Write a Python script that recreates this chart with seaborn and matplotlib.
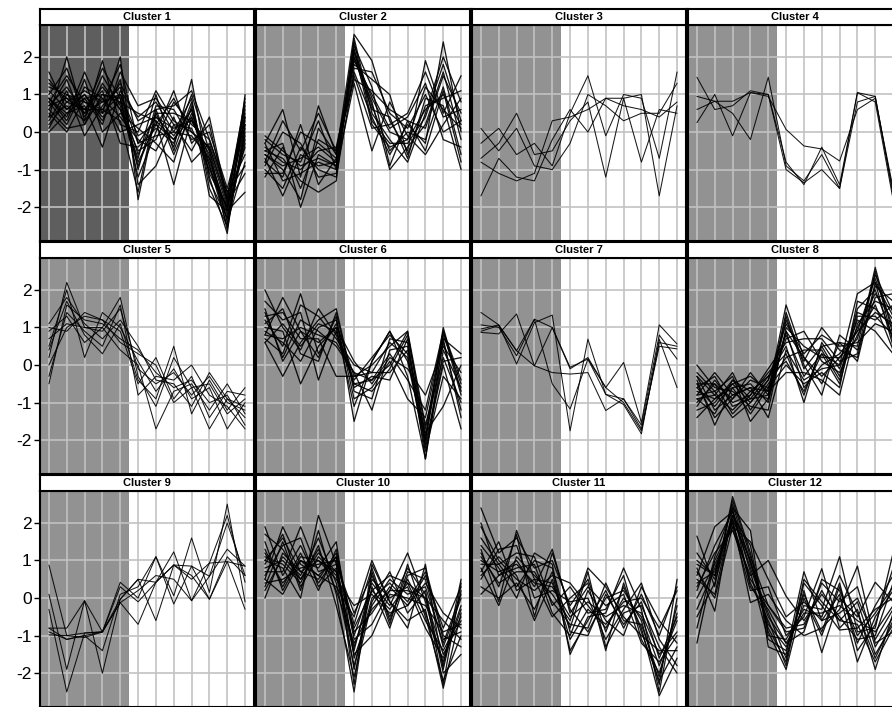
import numpy as np
import pandas as pd
import matplotlib
matplotlib.use("Agg")
import matplotlib.pyplot as plt
import seaborn as sns

# ---------------- data ----------------
time_points = list(range(1, 13))
ytick_values = [-2, -1, 0, 1, 2]
ytick_labels = ["-2", "-1", "0", "1", "2"]
cluster_names = [f"Cluster {i}" for i in range(1, 13)]

c1 = [
    [0.7, 0.9, 0.5, 0.8, 1.0, -0.3, 0.4, 0.1, 0.3, -0.5, -2.0, 0.2],
    [1.6, 0.6, 1.0, 0.4, 0.8, -0.8, 0.2, -0.2, 0.6, -0.9, -2.3, -0.3],
    [0.4, 2.0, 0.3, 1.9, 0.2, 0.0, 1.1, 0.3, 0.0, -0.4, -1.8, 0.6],
    [0.9, 0.4, 1.6, 0.5, 2.0, -1.8, 0.5, -0.4, 1.4, -1.2, -2.7, 1.0],
    [0.2, 0.8, 0.6, 1.2, 0.6, -0.5, -0.2, 0.8, 0.2, -0.2, -1.6, -0.6],
    [1.2, 1.0, 0.8, 0.6, 1.3, 0.3, 0.6, -0.6, 0.5, -0.7, -2.1, 0.4],
    [0.6, 1.4, 0.2, 1.0, 0.9, -1.2, 0.0, 1.1, -0.3, 0.2, -1.9, -1.1],
    [0.0, 0.5, 0.7, -0.4, 1.1, 0.4, 0.8, 0.0, 0.9, -1.5, -2.5, 0.0],
    [0.8, 0.2, 1.2, 0.9, 0.4, -0.2, -0.5, 0.4, -0.8, -0.3, -1.7, 0.8],
    [1.0, 1.7, 0.4, 1.5, 0.7, -0.9, 0.3, -1.4, 0.4, -0.8, -2.2, -0.2],
    [0.5, 0.0, 0.9, 0.2, 1.6, 0.7, 0.9, 0.2, 0.1, -1.0, -2.0, 0.5],
    [1.3, 0.9, 0.6, 1.1, -0.3, -0.4, 0.1, -0.3, 1.0, -0.5, -2.4, -0.8],
    [0.3, 1.1, -0.1, 0.7, 1.2, -1.0, 0.7, 0.6, -0.2, 0.0, -1.5, 0.3],
    [0.9, 0.3, 1.4, 0.0, 0.5, 0.1, -0.3, -0.8, 0.7, -1.7, -2.1, -1.6],
    [0.7, 1.2, 0.5, 1.7, 0.9, -0.6, 0.5, 0.5, 0.3, -0.6, -2.6, 0.1],
    [1.1, 0.6, 1.0, 0.3, 1.4, -1.4, -0.9, 0.2, -0.5, 0.4, -1.8, 0.7],
    [0.4, 0.7, 0.3, 0.9, 0.0, 0.2, 0.4, -0.1, 0.6, -1.1, -2.0, -0.4],
    [0.8, 1.5, 0.8, 0.5, 1.0, -0.1, 0.2, 0.9, 0.0, -0.4, -1.9, 0.9],
    [0.6, 0.1, 0.2, 1.3, 0.6, -0.7, 1.0, -0.5, 0.8, -1.3, -2.3, -0.1],
    [1.4, 0.8, 1.1, 0.8, 1.8, -0.3, -0.1, 0.0, -0.1, -0.7, -2.1, 0.4],
    [0.1, 1.0, 0.6, 0.6, 0.3, -1.6, 0.6, 0.7, 1.1, -0.2, -1.6, -0.9],
    [0.9, 0.5, 0.9, 1.0, 0.8, 0.5, 0.3, -0.2, 0.4, -0.9, -2.5, 0.2],
]
c2 = [
    [-0.6, -0.9, -0.7, -0.4, -0.8, 2.1, 0.9, 0.0, -0.2, 0.6, 1.0, 0.2],
    [-0.3, 0.6, -1.2, 0.7, -0.6, 2.6, 1.9, 0.3, -0.5, 1.9, 0.5, 1.5],
    [-1.0, -1.5, -0.4, -1.0, -1.2, 1.6, 0.4, -0.6, 0.2, -0.3, 2.4, 0.0],
    [-0.5, -0.3, -2.0, -0.6, -0.9, 2.0, 0.6, 0.4, -0.7, 0.9, 0.7, -1.0],
    [-0.8, -1.2, 0.2, -1.4, -0.7, 2.3, 1.2, -0.9, 0.3, 0.1, 1.5, 0.5],
    [-0.2, -0.6, -0.8, 0.3, -1.0, 1.3, -0.5, 0.8, -0.1, -0.6, 0.2, 0.9],
    [-1.2, -0.4, -1.5, -0.2, -0.5, 1.9, 1.0, 0.1, 0.4, 1.3, -0.2, -0.4],
    [-0.7, -1.7, -0.6, -0.9, -0.8, 2.4, 0.3, -0.3, -0.3, 0.4, 1.8, 0.3],
    [-0.4, -0.8, -1.0, -0.5, -0.4, 1.8, 1.4, 1.0, -0.6, 0.7, 0.9, 1.1],
    [-0.9, 0.0, -0.3, -1.2, -1.1, 2.2, 0.7, -0.5, 0.0, -0.2, 1.2, -0.6],
    [-0.6, -1.0, -1.8, 0.1, -0.6, 1.5, 0.1, 0.2, 0.5, 1.6, 0.4, 0.6],
    [-0.1, -0.5, -0.9, -0.7, -0.9, 2.0, 0.8, -1.0, -0.4, 0.2, 1.6, -0.2],
    [-1.1, -1.1, 0.0, -0.3, -0.7, 1.7, 1.6, 0.5, 0.1, 1.0, 0.0, 0.3],
    [-0.5, -0.7, -1.3, -1.6, -1.3, 2.5, 0.5, -0.2, -0.8, 0.5, 2.0, 0.8],
    [-0.8, 0.3, -0.5, 0.5, -0.5, 1.4, 1.1, 0.6, 0.3, -0.5, 1.1, -0.8],
    [-0.3, -1.3, -1.1, -0.8, -1.0, 2.2, 0.2, -0.4, -0.2, 1.2, 0.6, 0.1],
]
c3 = [
    [-0.3, 0.1, -0.6, -0.3, -0.9, 0.5, 1.5, -0.1, 1.0, 0.9, -0.7, 1.6],
    [-1.7, -0.7, -1.2, -1.3, -0.2, 0.6, 0.0, 0.9, 0.7, 0.6, 0.4, 0.8],
    [-0.7, -0.3, 0.5, -0.6, -0.5, 0.3, 0.8, -1.2, 0.9, -0.8, 0.6, 0.5],
    [-0.8, -1.1, -1.3, -1.1, 0.3, 0.4, 0.6, 0.9, 0.9, 1.0, -1.7, 0.7],
    [0.1, -0.5, 0.1, -0.9, -1.0, -0.3, 1.0, 0.7, 0.3, 0.5, 0.5, 1.3],
]
c4 = [
    [1.46, 0.6, 0.7, 1.1, 1.0, -1.0, -1.35, -1.0, -1.5, 1.05, 0.8, -1.8],
    [0.25, 1.0, -0.1, 1.05, 1.0, -0.8, -1.4, -0.4, -1.4, 1.05, 0.95, -1.7],
    [0.95, 0.82, 0.5, -0.2, 1.46, -0.9, -1.3, -0.6, -1.5, 0.8, 0.95, -1.6],
    [0.6, 0.82, 0.82, 1.05, 0.95, 0.07, -0.37, -0.45, -0.77, 0.6, 0.9, -1.5],
]
c5 = [
    [0.2, 2.2, 1.0, 0.9, 1.5, -0.1, -0.5, -0.2, -0.8, -0.3, -1.0, -1.2],
    [-0.5, 1.6, 1.2, 1.1, 0.7, 0.4, -0.2, -0.6, -0.4, -1.0, -0.8, -1.6],
    [0.9, 1.3, 0.6, 1.0, 1.8, -0.3, -1.1, 0.2, -0.6, -0.5, -1.3, -0.9],
    [1.1, 1.8, 1.1, 0.7, 1.2, 0.5, -0.4, -0.5, -1.1, -0.2, -0.9, -1.4],
    [0.0, 1.0, 1.3, 1.2, 0.9, -0.5, 0.2, -0.9, -0.3, -1.4, -0.7, -0.8],
    [0.5, 2.0, 0.2, 1.4, 1.0, 0.1, -0.7, -0.1, -0.9, -0.6, -1.7, -1.0],
    [-0.3, 1.4, 0.9, 0.5, 1.6, -0.8, -0.3, -0.4, 0.0, -0.8, -1.1, -1.7],
    [0.7, 1.1, 1.0, 1.0, 0.4, 0.0, -1.7, -0.7, -0.5, -1.2, -0.5, -1.3],
    [0.4, 1.7, 0.8, 0.3, 1.1, -0.4, -0.9, 0.5, -1.3, -0.4, -1.2, -0.6],
    [1.0, 0.9, 1.4, 1.2, 0.6, 0.3, 0.0, -1.0, -0.6, -1.7, -0.9, -1.1],
]
c6 = [
    [1.2, 0.5, 1.9, 0.3, 1.1, -0.3, -0.2, 0.6, 0.2, -2.0, 0.9, -0.4],
    [2.0, 1.0, 0.4, 1.5, 0.8, -0.5, -0.4, 0.0, 0.9, -1.6, 0.2, -1.0],
    [0.8, 1.8, 0.9, 0.2, 1.3, -1.5, 0.1, 0.9, -0.3, -2.5, 0.7, 0.3],
    [1.4, 0.2, 1.2, 0.9, 0.5, -0.2, -1.2, 0.4, 0.5, -1.9, 1.0, -0.7],
    [0.6, -0.3, 0.6, 1.2, 1.5, -0.6, -0.3, -0.4, 0.7, -2.2, 0.0, -1.7],
    [1.0, 0.9, -0.5, 0.5, 1.0, 0.1, -0.5, 0.2, -0.1, -0.8, 0.5, -0.2],
    [1.7, 1.2, 1.4, -0.4, 0.9, -0.4, 0.2, 0.8, 0.3, -2.3, -0.3, -0.9],
    [0.9, 0.6, 0.1, 1.0, 1.2, -0.9, -0.6, 0.1, -0.9, -1.4, 0.8, -0.5],
    [1.3, 1.4, 0.7, 0.7, -0.3, -0.3, 0.0, 0.5, 0.9, -2.0, 0.6, -1.2],
    [0.7, 0.3, 1.6, 1.3, 0.7, 0.0, -0.2, -0.2, 0.4, -1.8, -1.1, 0.0],
    [1.1, 1.5, 0.3, 0.1, 1.4, -0.7, -0.9, 0.7, 0.6, -2.5, 0.4, -0.6],
    [0.8, 0.7, 1.0, 0.8, 0.6, -0.2, -0.4, 0.3, -0.4, -1.2, 0.9, -0.8],
    [1.5, 0.1, 0.9, 0.6, 1.0, -1.1, 0.1, 0.9, 0.1, -2.1, 0.1, 0.2],
    [0.6, 1.1, 0.5, 1.1, 0.9, -0.5, -0.7, -0.1, 0.8, -1.7, 0.7, -1.4],
]
c7 = [
    [1.4, 1.07, 0.38, 1.22, 1.0, -0.06, 0.16, -0.6, 0.07, -1.53, 1.07, 0.56],
    [0.96, 1.07, 0.03, 1.13, 1.33, -1.75, 0.69, -0.78, -1.05, -1.83, 0.69, -0.6],
    [0.87, 0.83, 1.36, -0.02, -0.2, -0.24, -0.2, -1.21, -0.9, -1.7, 0.5, 0.43],
    [1.07, 1.0, 0.25, 1.22, -0.5, -1.17, 0.16, -0.78, -0.9, -1.6, 0.8, 0.16],
    [0.9, 1.05, 0.38, -0.02, 1.0, -0.1, 0.2, -0.6, -1.0, -1.75, 0.6, 0.5],
]
c8 = [
    [-0.7, -0.9, -0.5, -1.0, -0.4, 0.8, -0.3, 0.3, 0.0, 1.0, 1.9, 1.2],
    [-0.3, -1.2, -0.8, -0.6, -0.7, 1.6, 0.2, -0.5, 0.6, 0.5, 2.6, 0.8],
    [-1.0, -0.5, -1.3, -0.8, -0.2, 0.3, -0.8, 0.5, -0.3, 1.4, 1.2, 1.6],
    [-0.8, -0.7, -0.3, -1.5, -0.9, 1.2, 0.1, 1.0, 0.4, 0.2, 2.2, 0.5],
    [-0.5, -1.4, -0.9, -0.4, -0.6, 0.0, -0.5, -0.2, -0.6, 1.7, 1.5, 1.0],
    [0.0, -0.6, -0.7, -1.1, -1.2, 1.0, 0.5, 0.2, 0.2, 0.7, 2.4, 1.4],
    [-1.2, -1.0, -0.4, -0.7, -0.3, 0.5, -1.0, 0.6, -0.1, 1.2, 0.9, 0.3],
    [-0.6, -0.3, -1.1, -0.9, -0.8, 1.4, 0.0, -0.8, 0.8, 0.4, 1.8, 1.9],
    [-0.9, -0.8, -0.2, -1.2, -0.5, 0.2, 0.4, 0.4, -0.4, 1.5, 2.0, 0.7],
    [-0.4, -1.6, -0.6, -0.5, -1.0, 0.9, -0.6, 0.0, 0.3, 0.9, 1.4, 1.1],
    [-1.1, -0.4, -1.0, -0.8, -0.1, 0.6, 0.7, 0.7, 0.1, 0.3, 2.5, 0.6],
    [-0.6, -1.1, -0.5, -0.3, -0.7, -0.2, -0.2, -0.4, -0.8, 1.1, 1.7, 1.5],
    [-0.2, -0.7, -1.4, -1.0, -0.4, 1.1, 0.3, 0.8, 0.5, 0.6, 1.1, 0.9],
    [-0.8, -0.2, -0.8, -0.6, -1.4, 0.4, -0.4, -0.1, 0.0, 1.9, 2.2, 1.3],
    [-1.4, -0.9, -0.6, -1.3, -0.6, 0.7, 0.9, 0.1, -0.2, 0.8, 1.6, 0.4],
    [-0.5, -0.5, -0.9, -0.2, -0.8, 1.3, -0.1, 0.5, 0.6, 0.1, 2.1, 1.7],
    [-0.9, -1.3, -0.4, -0.9, -0.3, 0.1, -0.7, 0.3, -0.5, 1.3, 1.3, 0.8],
    [-0.3, -0.8, -1.2, -0.7, -0.9, 0.9, 0.2, -0.3, 0.2, 0.9, 2.3, 1.0],
]
c9 = [
    [0.88, -1.0, -0.93, -0.9, 0.42, 0.0, 1.1, 0.06, 1.6, 0.15, 2.5, -0.1],
    [0.1, -1.9, -0.07, -2.0, -0.03, 0.5, 0.42, 1.23, -0.07, 0.93, 2.2, 0.42],
    [-0.3, -2.5, -0.93, -0.9, -0.12, -0.7, 0.42, 0.88, 0.85, 0.58, 1.3, 0.85],
    [-0.8, -1.1, -1.0, -1.4, 0.1, 0.3, 1.1, -0.16, 0.85, -0.03, 1.1, 0.6],
    [-0.98, -1.0, -1.05, -0.9, -0.03, 0.5, -0.6, 0.88, 0.5, 0.93, 0.97, -0.3],
    [-0.8, -0.8, -0.07, -0.9, -0.12, 0.2, 0.6, 0.5, -0.07, 0.58, 2.0, 0.6],
    [-0.9, -1.1, -1.0, -0.9, 0.3, -0.1, 0.42, 0.88, 0.6, -0.03, 0.97, 0.85],
]
c10 = [
    [0.8, 1.0, 0.5, 1.2, 0.7, -1.3, 0.2, -0.3, 0.4, 0.0, -1.5, -0.6],
    [1.9, 0.6, 1.4, 0.4, 1.1, -0.9, -0.4, 0.3, -0.2, 0.6, -0.8, 0.3],
    [0.3, 1.5, 0.2, 1.8, 0.1, -2.5, 0.7, -0.7, 0.9, -0.5, -2.2, -1.0],
    [1.2, 0.4, 1.0, 0.8, 1.5, -1.6, -0.2, 0.5, 0.1, 0.3, -1.2, 0.1],
    [0.5, 1.9, 0.9, 0.6, 0.3, -0.5, 1.0, -0.1, -0.6, -0.3, -2.4, -0.4],
    [1.0, 0.8, 0.0, 2.2, 0.9, -1.9, 0.3, -0.8, 0.6, 0.8, -1.0, -1.3],
    [0.0, 1.2, 0.7, 0.5, 1.2, -1.1, -0.7, 0.2, 1.2, -0.1, -1.8, 0.5],
    [1.5, 0.2, 1.1, 1.0, 0.5, -0.2, 0.1, -0.4, -0.2, 0.4, -0.4, -0.8],
    [0.6, 1.4, 1.6, 0.3, 0.8, -1.4, 0.5, 0.0, 0.3, -0.8, -1.6, -0.2],
    [1.1, 0.9, 0.4, 1.4, -0.2, -2.1, -0.1, 0.7, -0.4, 0.2, -2.0, -1.5],
    [0.4, 0.5, 0.8, 0.9, 1.0, -0.7, 0.8, -0.6, 0.7, 0.5, -1.3, 0.0],
    [0.9, 1.7, 0.3, 1.1, 0.6, -1.5, -1.0, 0.1, 0.0, -0.2, -0.9, -0.7],
    [1.3, 0.3, 1.2, 0.2, 1.3, -1.0, 0.4, -0.2, 0.8, 0.1, -2.3, 0.4],
    [0.2, 1.1, 0.6, 1.6, 0.4, -1.8, 0.0, 0.4, -0.1, 0.7, -1.1, -0.9],
    [0.7, 0.7, 1.9, 0.7, 0.9, -0.4, 0.6, -0.5, 0.5, -0.4, -1.7, -0.3],
    [1.7, 1.3, 0.5, 1.3, 0.2, -1.2, -0.3, 0.2, 0.2, 0.0, -0.6, -1.1],
    [0.5, 0.1, 1.0, 0.6, 1.1, -2.3, 0.9, -0.1, -0.8, 0.9, -1.9, 0.2],
    [1.0, 1.6, 0.7, 1.0, 0.7, -0.8, 0.2, 0.6, 0.4, -0.6, -1.4, -0.5],
]
c11 = [
    [1.0, 0.7, 0.9, 0.4, 0.3, -0.5, -0.1, -0.5, -0.2, -0.4, -1.5, -0.9],
    [2.4, 1.2, 1.6, 0.8, 1.0, -0.2, 0.5, -0.9, 0.3, -0.8, -2.6, -1.6],
    [0.3, 0.0, 0.4, -0.3, 0.7, -1.4, -0.6, 0.2, -0.8, 0.1, -1.0, 0.3],
    [1.6, 0.9, 1.2, 1.1, -0.2, 0.3, -0.4, -0.3, 0.6, -1.1, -2.0, -0.4],
    [0.7, 1.5, 0.2, 0.5, 0.4, -0.8, 0.7, -1.3, -0.4, -0.2, -1.3, -2.0],
    [1.2, 0.3, 1.7, -0.5, 1.2, -0.3, -0.9, 0.0, 0.2, -0.6, -2.3, 0.5],
    [0.1, 0.6, 0.8, 0.9, -0.4, -1.0, 0.2, -0.6, -1.0, 0.3, -0.6, -1.2],
    [1.9, 1.0, 0.5, 0.2, 0.6, 0.4, -0.2, -0.8, 0.0, -0.5, -1.8, -0.6],
    [0.8, -0.2, 1.1, 0.6, 0.1, -0.6, 0.8, 0.3, -0.5, -1.0, -1.4, -1.4],
    [1.4, 0.8, 0.0, 1.2, 0.9, -1.5, -0.5, -0.4, 0.8, -0.3, -2.5, 0.0],
    [0.5, 1.3, 1.4, 0.0, 0.2, -0.1, 0.0, -1.1, -0.3, 0.4, -1.1, -1.8],
    [1.1, 0.4, 0.7, 0.7, -0.1, -0.7, -0.8, 0.4, -0.6, -0.7, -2.1, -0.2],
    [2.0, 0.6, 1.0, 0.3, 1.3, -0.4, 0.3, -0.2, 0.1, -1.2, -1.7, -1.0],
    [0.6, 1.1, 0.6, -0.6, 0.5, -1.1, -0.3, -0.7, -0.1, 0.0, -0.8, 0.2],
    [1.3, -0.1, 1.8, 0.5, -0.5, 0.0, 0.4, -1.4, 0.4, -0.9, -2.2, -1.3],
    [0.9, 0.9, 0.3, 1.0, 0.8, -0.9, -1.0, 0.1, -0.7, -0.1, -1.6, -0.5],
]
c12 = [
    [0.4, 0.7, 2.2, 0.8, -0.5, -1.2, -0.4, -0.4, -0.2, -0.6, -0.9, -0.2],
    [1.65, 0.3, 2.7, 1.2, -0.9, -1.9, 0.0, -1.0, 0.3, -1.2, -0.2, 0.6],
    [-1.2, 1.0, 2.0, 0.5, -0.2, -0.8, -0.7, 0.2, -0.6, -0.1, -1.5, -0.7],
    [0.8, -0.35, 2.4, 1.8, -1.3, -1.5, 0.7, -0.6, 0.1, -1.7, -0.5, 0.2],
    [0.0, 0.9, 1.9, 0.2, 0.3, -1.0, -0.5, 0.78, -0.8, -0.3, -1.9, -0.4],
    [0.6, 1.9, 2.3, 1.0, -0.7, -1.3, -0.2, -0.3, 1.1, -0.9, -0.8, 1.2],
    [-0.5, 0.4, 2.1, -0.12, 0.1, -0.6, -1.0, -0.8, -0.3, 0.85, -1.2, -0.9],
    [1.0, 0.6, 2.5, 0.9, -0.4, -1.6, 0.2, -1.45, 0.0, -0.5, 0.42, -0.1],
    [0.3, 1.2, 1.8, 0.6, 1.0, 0.05, -0.6, 0.1, -0.5, -1.1, -1.0, 0.4],
    [0.5, 0.1, 2.2, 1.4, -1.0, -1.1, -0.3, -0.5, 0.6, -0.4, -1.6, -0.6],
    [-0.3, 0.8, 2.0, 0.4, -0.6, -1.8, 0.4, -0.2, -0.85, -0.8, -0.3, 0.0],
    [1.2, 0.5, 2.6, 1.1, -0.2, -0.9, -0.8, 0.4, -0.1, 0.3, -1.3, -0.5],
    [0.2, 1.4, 2.3, 0.7, -1.1, -1.4, 0.1, -0.9, 0.4, -1.4, -0.7, 0.8],
    [0.7, 0.0, 1.9, 1.5, 0.5, -0.5, -0.1, -0.6, -0.4, 0.0, -1.1, -0.3],
    [-0.8, 1.1, 2.4, 0.3, -0.3, -1.2, -0.9, 0.5, 0.2, -1.0, -0.4, 0.3],
    [0.9, 0.6, 2.1, 1.0, -0.8, -1.7, 0.5, -0.1, -0.6, -0.7, -1.7, -0.8],
]
cluster_data = [c1, c2, c3, c4, c5, c6, c7, c8, c9, c10, c11, c12]

# ---------------- style / layout ----------------
sns.set_theme(style="white")
plt.rcParams["font.family"] = ["Liberation Sans", "DejaVu Sans"]

W, H = 892, 707
fig = plt.figure(figsize=(W / 100, H / 100), dpi=100)
fig.patch.set_facecolor("white")

col_left = [40, 256, 472, 688]
panel_w = 214
row_top = [25, 258, 491]
panel_h = 216
strip_h = 16


def px_axes(left, top, width, height):
    return fig.add_axes([left / W, 1 - (top + height) / H, width / W, height / H])


for i, (name, lines) in enumerate(zip(cluster_names, cluster_data)):
    r, c = divmod(i, 4)
    ax = px_axes(col_left[c], row_top[r], panel_w, panel_h)
    ax.set_facecolor("white")

    rows = []
    for k, vals in enumerate(lines):
        for t, v in zip(time_points, vals):
            rows.append({"line": k, "time": t, "value": v})
    df = pd.DataFrame(rows)

    shade = "#5e5e5e" if i == 0 else "#929292"
    ax.axvspan(0.5, 5.5, color=shade, lw=0, zorder=-1)
    ax.set_axisbelow(True)

    lw = 0.95 if len(lines) >= 14 else 0.75
    sns.lineplot(data=df, x="time", y="value", units="line", estimator=None,
                 color="black", lw=lw, alpha=0.9, ax=ax, legend=False)

    ax.set_xlim(0.5, 12.5)
    ax.set_ylim(-2.9, 2.85)
    ax.set_xticks(time_points)
    ax.set_yticks(ytick_values)
    ax.grid(True, color="#c2c2c2", lw=1.4, alpha=0.85)
    ax.tick_params(axis="x", length=0, labelbottom=False)
    ax.set_xlabel("")
    ax.set_ylabel("")
    if c == 0:
        ax.set_yticklabels(ytick_labels)
        ax.tick_params(axis="y", left=True, length=4, width=1, color="black",
                       labelsize=12.5, pad=2, labelcolor="black")
    else:
        ax.tick_params(axis="y", length=0, labelleft=False)
    for sp in ax.spines.values():
        sp.set_color("black")
        sp.set_linewidth(1.5)

    strip = px_axes(col_left[c], row_top[r] - strip_h, panel_w, strip_h)
    strip.set_facecolor("white")
    strip.set_xticks([])
    strip.set_yticks([])
    for sp in strip.spines.values():
        sp.set_color("black")
        sp.set_linewidth(1.5)
    strip.text(0.5, 0.5, name, ha="center", va="center", fontsize=8,
               fontweight="bold", color="black", transform=strip.transAxes)

fig.savefig("out.png", dpi=100)
